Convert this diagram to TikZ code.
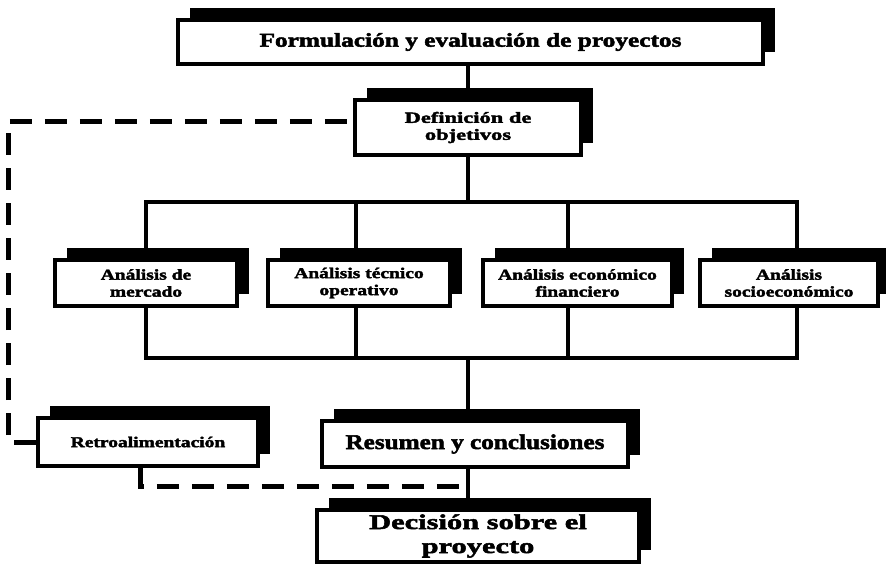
\documentclass[tikz,border=0pt]{standalone}
\usepackage{fontspec}
\setmainfont{Liberation Serif}
\newfontfamily\fA[FakeStretch=1.3,BoldFeatures={FakeBold=2.5}]{Liberation Serif}
\newfontfamily\fB[FakeStretch=1.45,BoldFeatures={FakeBold=2.5}]{Liberation Serif}
\newfontfamily\fC[FakeStretch=1.2,BoldFeatures={FakeBold=2.5}]{Liberation Serif}
\usetikzlibrary{shadows}
\pgfdeclarelayer{bg}
\pgfsetlayers{bg,main}
\tikzset{
  box/.style={draw=black, line width=3.5pt, fill=white, align=center, inner sep=0pt,
    general shadow={fill=black, shadow xshift=12pt, shadow yshift=12pt}},
  conn/.style={line width=4pt},
  dashline/.style={line width=5pt, dash pattern=on 22pt off 13pt},
  fTop/.style={font={\fA\bfseries\fontsize{19.5}{22}\selectfont}},
  fDef/.style={font={\fB\bfseries\fontsize{15.5}{17}\selectfont}},
  fAn/.style={font={\fA\bfseries\fontsize{15}{17}\selectfont}},
  fRes/.style={font={\fC\bfseries\fontsize{21}{24}\selectfont}},
  fDec/.style={font={\fB\bfseries\fontsize{21}{24}\selectfont}},
}
\begin{document}
\begin{tikzpicture}[x=1pt,y=1pt]
\useasboundingbox (0,0) rectangle (886,-569);
\node[box,fTop,minimum width=585pt,minimum height=44pt] (top) at (470.5,-42) {Formulación y evaluación de proyectos};
\node[box,fDef,minimum width=226pt,minimum height=55pt] (def) at (468,-127.5) {Definición de\\objetivos};
\node[box,fAn,minimum width=182pt,minimum height=46pt] (a1) at (146,-283) {Análisis de\\mercado};
\node[box,fAn,minimum width=182pt,minimum height=46pt] (a2) at (359,-283) {Análisis técnico\\operativo};
\node[box,fAn,minimum width=189pt,minimum height=46pt] (a3) at (577.5,-283) {Análisis económico\\financiero};
\node[box,fAn,minimum width=178pt,minimum height=46pt] (a4) at (789,-283) {Análisis\\socioeconómico};
\node[box,fAn,minimum width=220pt,minimum height=48pt] (ret) at (148,-442) {Retroalimentación};
\node[box,fRes,minimum width=306pt,minimum height=46pt] (res) at (475,-444) {Resumen y conclusiones};
\node[box,fDec,minimum width=322pt,minimum height=52pt] (dec) at (478,-536) {Decisión sobre el\\proyecto};
\coordinate (bt) at (468,-202);
\coordinate (bb) at (468,-358);
\coordinate (dj) at (468,-486);
\coordinate (d1) at (146,-202);
\coordinate (d2) at (356,-202);
\coordinate (d3) at (568,-202);
\coordinate (d4) at (797,-202);
\begin{pgfonlayer}{bg}
\draw[conn] (top.south -| bt) -- (def.north -| bt);
\draw[conn] (def.south -| bt) -- (bt);
\draw[conn] (a1.north -| d1) -- (d1) -- (d4) -- (a4.north -| d4);
\draw[conn] (a2.north -| d2) -- (d2);
\draw[conn] (a3.north -| d3) -- (d3);
\draw[conn] (a1.south -| d1) -- (d1 |- bb) -- (d4 |- bb) -- (a4.south -| d4);
\draw[conn] (a2.south -| d2) -- (d2 |- bb);
\draw[conn] (a3.south -| d3) -- (d3 |- bb);
\draw[conn] (bb) -- (res.north -| bb);
\draw[conn] (res.south -| bb) -- (dec.north -| bb);
\draw[dashline] (ret.west) -- ++(-28,0) |- ([yshift=6pt]def.west);
\draw[dashline] ([xshift=-8pt]ret.south) |- (dj);
\end{pgfonlayer}
\end{tikzpicture}
\end{document}
